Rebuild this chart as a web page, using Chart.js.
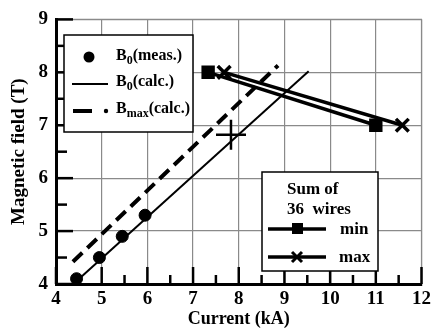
<!DOCTYPE html>
<html>
<head>
<meta charset="utf-8">
<script src="https://cdn.jsdelivr.net/npm/chart.js@4.4.1/dist/chart.umd.min.js"></script>
<style>
  html, body { margin: 0; padding: 0; background: #fff; }
  #wrap { width: 439px; height: 328px; }
</style>
</head>
<body>
<div id="wrap"><canvas id="chart"></canvas></div>
<script>
// 데이터 -------------------------------------------------------------
const measCurrent = [4.45, 4.95, 5.45, 5.95];
const measField = [4.1, 4.5, 4.9, 5.3];

const b0CalcCurrent = [4.38, 9.53];
const b0CalcField = [4.0, 8.02];

const bmaxCalcCurrent = [4.37, 8.86];
const bmaxCalcField = [4.42, 8.13];

const markCurrent = [7.83];
const markField = [6.82];

const minCurrent = [7.33, 11.0];
const minField = [8.0, 7.0];
const maxCurrent = [7.68, 11.58];
const maxField = [8.0, 7.0];

const xTicks = [4, 5, 6, 7, 8, 9, 10, 11, 12];
const yTicks = [4, 5, 6, 7, 8, 9];

const FONT = '"Liberation Serif", "DejaVu Serif", serif';

function pts(xs, ys) {
    return xs.map((x, i) => ({ x: x, y: ys[i] }));
}

// 안쪽 눈금 + 위/오른쪽 테두리
const innerTicks = {
    id: 'innerTicks',
    beforeDatasetsDraw(chart) {
        const ctx = chart.ctx;
        const xs = chart.scales.x;
        const ys = chart.scales.y;
        const area = chart.chartArea;
        ctx.save();
        ctx.strokeStyle = '#8a8a8a';
        ctx.lineWidth = 1.2;
        ctx.beginPath();
        ctx.moveTo(area.left, ys.getPixelForValue(9));
        ctx.lineTo(xs.getPixelForValue(12), ys.getPixelForValue(9));
        ctx.lineTo(xs.getPixelForValue(12), area.bottom);
        ctx.stroke();

        ctx.strokeStyle = '#000';
        ctx.lineWidth = 2.5;
        for (let v = 4; v <= 12; v += 0.5) {
            const px = xs.getPixelForValue(v);
            const len = Number.isInteger(v) ? 17 : 9;
            ctx.beginPath();
            ctx.moveTo(px, area.bottom);
            ctx.lineTo(px, area.bottom - len);
            ctx.stroke();
        }
        for (let v = 4; v <= 9; v += 0.5) {
            const py = ys.getPixelForValue(v);
            const len = Number.isInteger(v) ? 17 : 11;
            ctx.beginPath();
            ctx.moveTo(area.left, py);
            ctx.lineTo(area.left + len, py);
            ctx.stroke();
        }
        ctx.restore();
    }
};

// 범례 그리기
function subText(ctx, x, y, base, sub, rest) {
    ctx.font = 'bold 16px ' + FONT;
    ctx.fillText(base, x, y);
    x += ctx.measureText(base).width;
    ctx.font = 'bold 12px ' + FONT;
    ctx.fillText(sub, x, y + 5);
    x += ctx.measureText(sub).width;
    ctx.font = 'bold 16px ' + FONT;
    ctx.fillText(rest, x, y);
}

const legends = {
    id: 'legends',
    afterDraw(chart) {
        const ctx = chart.ctx;
        ctx.save();
        ctx.fillStyle = '#fff';
        ctx.strokeStyle = '#000';
        ctx.lineWidth = 1.5;

        // 왼쪽 범례
        ctx.fillRect(64, 35, 129, 97);
        ctx.strokeRect(64, 35, 129, 97);
        ctx.fillStyle = '#000';
        ctx.textBaseline = 'middle';
        ctx.beginPath();
        ctx.arc(89, 57, 5.5, 0, Math.PI * 2);
        ctx.fill();
        subText(ctx, 116, 56, 'B', '0', '(meas.)');

        ctx.lineWidth = 2;
        ctx.beginPath();
        ctx.moveTo(72, 84);
        ctx.lineTo(108, 84);
        ctx.stroke();
        subText(ctx, 116, 82, 'B', '0', '(calc.)');

        ctx.lineWidth = 4;
        ctx.beginPath();
        ctx.moveTo(73, 111);
        ctx.lineTo(92, 111);
        ctx.stroke();
        ctx.beginPath();
        ctx.arc(106, 111, 2.2, 0, Math.PI * 2);
        ctx.fill();
        subText(ctx, 116, 109, 'B', 'max', '(calc.)');

        // 오른쪽 범례
        ctx.fillStyle = '#fff';
        ctx.lineWidth = 1.5;
        ctx.fillRect(262, 172, 116, 99);
        ctx.strokeRect(262, 172, 116, 99);
        ctx.fillStyle = '#000';
        ctx.font = 'bold 17px ' + FONT;
        ctx.textAlign = 'left';
        ctx.fillText('Sum of', 287, 190);
        ctx.fillText('36  wires', 287, 210);
        ctx.fillText('min', 340, 230);
        ctx.fillText('max', 339, 258);

        ctx.lineWidth = 3.5;
        ctx.beginPath();
        ctx.moveTo(268, 229);
        ctx.lineTo(326, 229);
        ctx.stroke();
        ctx.fillRect(292, 223, 11, 11);

        ctx.beginPath();
        ctx.moveTo(268, 257);
        ctx.lineTo(326, 257);
        ctx.stroke();
        ctx.lineWidth = 3;
        ctx.beginPath();
        ctx.moveTo(292, 252);
        ctx.lineTo(302, 262);
        ctx.moveTo(302, 252);
        ctx.lineTo(292, 262);
        ctx.stroke();
        ctx.restore();
    }
};

// 차트 그리기 ---------------------------------------------------------
const chart = document.getElementById('chart');
new Chart(chart, {
    type: 'scatter',
    data: {
        datasets: [
            {
                label: 'B0(calc.)',
                data: pts(b0CalcCurrent, b0CalcField),
                showLine: true,
                borderColor: '#000',
                borderWidth: 2,
                pointRadius: 0,
            },
            {
                label: 'Bmax(calc.)',
                data: pts(bmaxCalcCurrent, bmaxCalcField),
                showLine: true,
                borderColor: '#000',
                borderWidth: 4,
                borderDash: [13, 7],
                pointRadius: 0,
            },
            {
                label: 'B0(meas.)',
                data: pts(measCurrent, measField),
                backgroundColor: '#000',
                borderColor: '#000',
                pointRadius: 6,
            },
            {
                label: 'mark',
                data: pts(markCurrent, markField),
                pointStyle: 'cross',
                borderColor: '#000',
                borderWidth: 2.5,
                pointRadius: 15,
            },
            {
                label: 'min',
                data: pts(minCurrent, minField),
                showLine: true,
                borderColor: '#000',
                backgroundColor: '#000',
                borderWidth: 3.5,
                pointStyle: 'rect',
                pointRadius: 7,
            },
            {
                label: 'max',
                data: pts(maxCurrent, maxField),
                showLine: true,
                borderColor: '#000',
                backgroundColor: '#000',
                borderWidth: 3.5,
                pointStyle: 'crossRot',
                pointRadius: 9,
            },
        ],
    },
    options: {
        responsive: true,
        maintainAspectRatio: false,
        animation: false,
        layout: { padding: { top: 16, right: 13, left: 0, bottom: 0 } },
        plugins: {
            legend: { display: false },
            tooltip: { enabled: false },
        },
        scales: {
            x: {
                type: 'linear',
                min: 4,
                max: 12,
                afterFit(scale) { scale.height = 44; },
                afterBuildTicks(scale) {
                    const t = [];
                    for (let v = 4; v <= 12; v += 0.5) t.push({ value: v });
                    scale.ticks = t;
                },
                ticks: {
                    autoSkip: false,
                    maxRotation: 0,
                    padding: 4,
                    color: '#000',
                    font: { family: FONT, size: 19, weight: 'bold' },
                    callback: v => xTicks.includes(v) ? String(v) : '',
                },
                grid: {
                    drawTicks: false,
                    color: c => Number.isInteger(c.tick.value) ? '#8a8a8a' : 'rgba(0,0,0,0)',
                    lineWidth: 1.2,
                },
                border: { color: '#000', width: 3 },
                title: {
                    display: true,
                    text: 'Current (kA)',
                    color: '#000',
                    font: { family: FONT, size: 18, weight: 'bold' },
                    padding: { top: 0, bottom: -2 },
                },
            },
            y: {
                type: 'linear',
                min: 4,
                max: 9,
                afterFit(scale) { scale.width = 56; },
                afterBuildTicks(scale) {
                    const t = [];
                    for (let v = 4; v <= 9; v += 0.5) t.push({ value: v });
                    scale.ticks = t;
                },
                ticks: {
                    autoSkip: false,
                    padding: 8,
                    color: '#000',
                    font: { family: FONT, size: 19, weight: 'bold' },
                    callback: v => yTicks.includes(v) ? String(v) : '',
                },
                grid: {
                    drawTicks: false,
                    color: c => Number.isInteger(c.tick.value) ? '#8a8a8a' : 'rgba(0,0,0,0)',
                    lineWidth: 1.2,
                },
                border: { color: '#000', width: 3 },
                title: {
                    display: true,
                    text: 'Magnetic field (T)',
                    color: '#000',
                    font: { family: FONT, size: 19, weight: 'bold' },
                    padding: { top: 8, bottom: 0 },
                },
            },
        },
    },
    plugins: [innerTicks, legends],
});
</script>
</body>
</html>
